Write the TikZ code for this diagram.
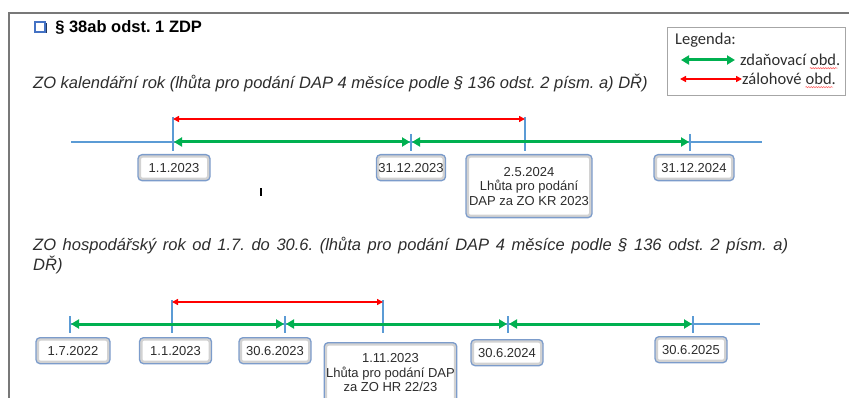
\documentclass[tikz,border=0pt]{standalone}
\usepackage{fontspec}
\setmainfont{Liberation Sans}
\newfontfamily\legfont{Carlito}
\usetikzlibrary{arrows.meta,positioning,shadows,decorations.pathmorphing}

\definecolor{zgreen}{RGB}{0,176,80}
\definecolor{zred}{RGB}{255,0,0}
\definecolor{lineblue}{RGB}{91,155,213}
\definecolor{boxblue}{RGB}{124,156,203}
\definecolor{bulletblue}{RGB}{68,114,196}
\definecolor{framegray}{RGB}{120,120,120}
\definecolor{textgray}{RGB}{45,45,45}

\begin{document}
\frenchspacing
\begin{tikzpicture}[
  x=1pt, y=-1pt,
  datebox/.style={draw=boxblue, line width=1.3pt, rounded corners=4pt, fill=white,
                  path picture={\draw[gray!35, line width=6pt]
                     (path picture bounding box.south west) rectangle (path picture bounding box.north east);},
                  minimum width=72pt, minimum height=26pt, inner xsep=2pt, text=textgray,
                  font=\fontsize{13}{14.5}\selectfont, align=center},
  axisline/.style={draw=lineblue, line width=1.6pt},
  tickline/.style={draw=lineblue, line width=1.6pt},
  greenarr/.style={{Triangle[length=8pt,width=9pt]}-{Triangle[length=8pt,width=9pt]},
                   draw=zgreen, line width=3pt, shorten <=1pt, shorten >=1pt},
  redarr/.style={{Triangle[length=6pt,width=6pt]}-{Triangle[length=6pt,width=6pt]},
                 draw=zred, line width=2pt},
  heading/.style={font=\fontsize{16.5}{20}\selectfont\itshape, text=textgray,
                  anchor=base west, inner sep=0pt},
  legtext/.style={font=\legfont\fontsize{16.5}{19}\selectfont, text=textgray,
                  anchor=west, inner sep=0pt},
  squiggle/.style={draw=red!60, line width=0.6pt, decorate,
                   decoration={snake, amplitude=0.6pt, segment length=2.5pt}}
]
  \useasboundingbox (0,0) rectangle (849,398);

  % page frame
  \draw[framegray, line width=2pt] (9,398) -- (9,13) -- (849,13);

  % title
  \node[draw=bulletblue, line width=2.2pt, fill=white, minimum size=10pt, inner sep=0pt,
        drop shadow={shadow xshift=1.5pt, shadow yshift=-1.5pt, fill=bulletblue!50!black, opacity=1}]
        (bullet) at (40,27) {};
  \node[font=\bfseries\fontsize{16.5}{20}\selectfont, inner sep=0pt, right=9pt of bullet] (title)
        {§ 38ab odst. 1 ZDP};

  % legend
  \node[draw=gray!70, line width=1.2pt, minimum width=178pt, minimum height=68pt,
        anchor=north west] (legend) at (667,27) {};
  \node[legtext] (leghead) at (675,40) {Legenda:};
  \coordinate (lg1a) at (680,60);
  \coordinate (lg1b) at (736,60);
  \coordinate (lg2a) at (680,79);
  \coordinate (lg2b) at (742,79);
  \draw[greenarr] (lg1a) -- (lg1b);
  \draw[redarr] (lg2a) -- (lg2b);
  \node[legtext] (lgz) at (740,60) {zdaňovací};
  \node[legtext, anchor=base west] (lgzo) at ([xshift=3.6pt]lgz.base east) {obd.};
  \node[legtext] (lgv) at (742,79) {zálohové};
  \node[legtext, anchor=base west] (lgvo) at ([xshift=3.6pt]lgv.base east) {obd.};
  \draw[squiggle] ([yshift=-2.5pt]lgzo.base west) -- ([yshift=-2.5pt, xshift=-3pt]lgzo.base east);
  \draw[squiggle] ([yshift=-2.5pt]lgvo.base west) -- ([yshift=-2.5pt, xshift=-3pt]lgvo.base east);

  % calendar year
  \node[heading] (kr) at (33,89)
        {ZO kalendářní rok (lhůta pro podání DAP 4 měsíce podle § 136 odst. 2 písm. a) DŘ)};

  \coordinate (k0) at (71,142);
  \coordinate (k1) at (173,142);
  \coordinate (k2) at (411,142);
  \coordinate (k3) at (525,142);
  \coordinate (k4) at (690,142);
  \coordinate (k5) at (762,142);
  \draw[axisline] (k0) -- (k5);
  \foreach \p/\h in {k1/25, k2/8, k3/25, k4/8}
    \draw[tickline] ([yshift=\h pt]\p) -- ([yshift=-9pt]\p);
  \draw[greenarr] (k1) -- (k2);
  \draw[greenarr] (k2) -- (k4);
  \draw[redarr] ([yshift=23pt]k1) -- ([yshift=23pt]k3);

  \node[datebox, below=12pt of k1, xshift=1pt] (d1) {1.1.2023};
  \node[datebox, below=12pt of k2, minimum width=67pt] (d2) {31.12.2023};
  \node[datebox, below=12pt of k3, xshift=4pt, minimum width=126pt, minimum height=63pt] (d3)
        {2.5.2024\\Lhůta pro podání\\DAP za ZO KR 2023};
  \node[datebox, below=12pt of k4, xshift=4pt, minimum width=80pt] (d4) {31.12.2024};

  \fill (260,188) rectangle (262,196);

  % fiscal year
  \node[heading, align=left] (hr) at (33,270)
        {\makebox[755pt][s]{ZO hospodářský rok od 1.7. do 30.6. (lhůta pro podání DAP 4 měsíce podle § 136 odst. 2 písm. a)}\\DŘ)};

  \coordinate (h0) at (70,324);
  \coordinate (h1) at (172,324);
  \coordinate (h2) at (285,324);
  \coordinate (h3) at (383,324);
  \coordinate (h4) at (508,324);
  \coordinate (h5) at (693,324);
  \coordinate (h6) at (760,324);
  \draw[axisline] (h0) -- (h6);
  \foreach \p/\h in {h0/8, h1/24, h2/8, h3/24, h4/8, h5/8}
    \draw[tickline] ([yshift=\h pt]\p) -- ([yshift=-9pt]\p);
  \draw[greenarr] (h0) -- (h2);
  \draw[greenarr] (h2) -- (h4);
  \draw[greenarr] (h4) -- (h5);
  \draw[redarr] ([yshift=22pt]h1) -- ([yshift=22pt]h3);

  \node[datebox, below=13pt of h0, xshift=3pt, minimum width=74pt] (e0) {1.7.2022};
  \node[datebox, below=13pt of h1, xshift=3.5pt] (e1) {1.1.2023};
  \node[datebox, below=13pt of h2, xshift=-10pt] (e2) {30.6.2023};
  \node[datebox, below=18pt of h3, xshift=7.5pt, minimum width=131pt, minimum height=60pt] (e3)
        {1.11.2023\\Lhůta pro podání DAP\\za ZO HR 22/23};
  \node[datebox, below=15pt of h4, xshift=-1pt] (e4) {30.6.2024};
  \node[datebox, below=12pt of h5, xshift=-2pt] (e5) {30.6.2025};
\end{tikzpicture}
\end{document}
